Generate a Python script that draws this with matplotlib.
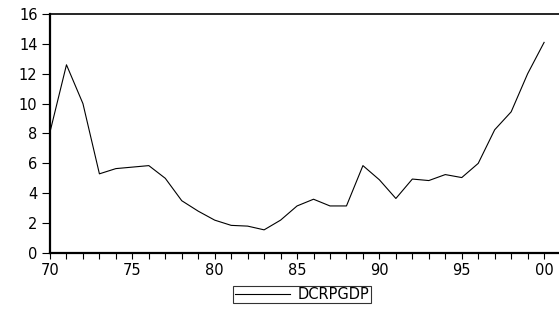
import matplotlib
matplotlib.use("Agg")
import matplotlib.pyplot as plt
from matplotlib.ticker import MultipleLocator, FuncFormatter

years = list(range(1970, 2001))
dcrpgdp = [8.1, 12.6, 10.0, 5.3, 5.65, 5.75, 5.85, 5.0, 3.5, 2.8,
           2.2, 1.85, 1.8, 1.55, 2.2, 3.15, 3.6, 3.15, 3.15, 5.85,
           4.9, 3.65, 4.95, 4.85, 5.25, 5.05, 6.0, 8.25, 9.45, 12.0,
           14.1]

plt.rcParams['font.family'] = ['DejaVu Sans']

fig = plt.figure(figsize=(5.59, 3.09), dpi=100)
ax = fig.add_axes([50/559, 56/309, 1 - 50/559, 239/309])

ax.plot(years, dcrpgdp, color='black', lw=0.8, label='DCRPGDP')

ax.set_xlim(1970, 1970 + 509/16.47)
ax.set_ylim(0, 16)
ax.yaxis.set_major_locator(MultipleLocator(2))
ax.xaxis.set_major_locator(MultipleLocator(5))
ax.xaxis.set_minor_locator(MultipleLocator(1))
ax.xaxis.set_major_formatter(FuncFormatter(lambda v, p: f"{int(v) % 100:02d}"))

for s in ['left', 'bottom']:
    ax.spines[s].set_linewidth(1.6)
ax.spines['top'].set_linewidth(1.2)
ax.spines['right'].set_visible(False)

ax.tick_params(axis='y', direction='out', length=6, width=0.8, labelsize=10.5, pad=3)
ax.tick_params(axis='x', which='both', direction='out', length=4, width=0.8, labelsize=10.5, pad=3)

leg = fig.legend(loc='center', bbox_to_anchor=(302/559, 1 - 294.5/309),
                 fancybox=False, edgecolor='black', fontsize=10.5,
                 handlelength=3.8, borderpad=0.1, handletextpad=0.5,
                 borderaxespad=0)
leg.get_frame().set_linewidth(0.8)

fig.savefig("out.png", dpi=100)
